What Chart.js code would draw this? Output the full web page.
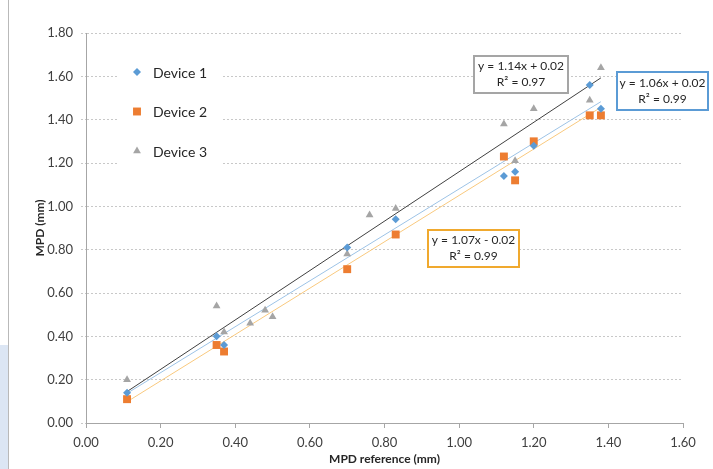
<!DOCTYPE html>
<html>
<head>
<meta charset="utf-8">
<script src="https://cdn.jsdelivr.net/npm/chart.js@4.4.1/dist/chart.umd.min.js"></script>
<style>
  html, body { margin: 0; padding: 0; background: #fff; }
  #wrap { position: relative; width: 713px; height: 469px; overflow: hidden; }
  #strip { position: absolute; left: 0; top: 345px; width: 8px; height: 124px; background: #dce6f4; }
  #edge { position: absolute; left: 8px; top: 0; width: 1px; height: 469px; background: #b9b9b9; }
  canvas { position: absolute; left: 0; top: 0; }
</style>
</head>
<body>
<div id="wrap">
  <div id="strip"></div>
  <div id="edge"></div>
  <canvas id="chart" width="713" height="469"></canvas>
</div>
<script>
// measured values (MPD reference vs device)
const dev1X = [0.11, 0.35, 0.37, 0.70, 0.83, 1.12, 1.15, 1.20, 1.35, 1.38];
const dev1Y = [0.14, 0.40, 0.36, 0.81, 0.94, 1.14, 1.16, 1.28, 1.56, 1.45];

const dev2X = [0.11, 0.35, 0.37, 0.70, 0.83, 1.12, 1.15, 1.20, 1.35, 1.38];
const dev2Y = [0.11, 0.36, 0.33, 0.71, 0.87, 1.23, 1.12, 1.30, 1.42, 1.42];

const dev3X = [0.11, 0.35, 0.37, 0.44, 0.48, 0.50, 0.70, 0.76, 0.83, 1.12, 1.15, 1.20, 1.35, 1.38];
const dev3Y = [0.20, 0.54, 0.42, 0.46, 0.52, 0.49, 0.78, 0.96, 0.99, 1.38, 1.21, 1.45, 1.49, 1.64];

// trendline end points
const trendX = [0.11, 1.38];
const trend1Y = [0.137, 1.483];
const trend2Y = [0.098, 1.457];
const trend3Y = [0.145, 1.593];

const seriesNames = ["Device 1", "Device 2", "Device 3"];
const equations = [
  ["y = 1.06x + 0.02", "R² = 0.99"],
  ["y = 1.07x - 0.02", "R² = 0.99"],
  ["y = 1.14x + 0.02", "R² = 0.97"]
];

const toPoints = (xs, ys) => xs.map((x, i) => ({ x: x, y: ys[i] }));

Chart.defaults.font.family = "Lato";
Chart.defaults.color = "#404040";

//legend drawn inside the plot, on a white patch over the gridlines
const insideLegend = {
  id: "insideLegend",
  beforeDatasetsDraw(chart) {
    const ctx = chart.ctx;
    ctx.save();
    ctx.fillStyle = "#ffffff";
    ctx.fillRect(118, 52, 104, 118);
    ctx.font = "14px Lato";
    ctx.textBaseline = "middle";
    ctx.textAlign = "left";
    for (let i = 0; i < 3; i++) {
      const ds = chart.data.datasets[i];
      const y = 72 + i * 39.5;
      ctx.fillStyle = ds.backgroundColor;
      ctx.strokeStyle = ds.borderColor;
      ctx.lineWidth = 1;
      Chart.helpers.drawPoint(ctx, { pointStyle: ds.pointStyle, radius: ds.pointRadius, rotation: 0, borderWidth: 0 }, 137, y);
      ctx.fillStyle = "#262626";
      ctx.fillText(seriesNames[i], 153, y + 1);
    }
    ctx.restore();
  }
};

//equation boxes
const boxes = [
  { eq: 0, x: 617, y: 72, w: 91, h: 38, color: "#5b9bd5" },
  { eq: 1, x: 428, y: 230, w: 91, h: 37, color: "#f0a92e" },
  { eq: 2, x: 474, y: 56, w: 94, h: 37, color: "#a5a5a5" }
];

const equationBoxes = {
  id: "equationBoxes",
  afterDatasetsDraw(chart) {
    const ctx = chart.ctx;
    ctx.save();
    boxes.forEach((b) => {
      ctx.fillStyle = "#ffffff";
      ctx.fillRect(b.x, b.y, b.w, b.h);
      ctx.strokeStyle = b.color;
      ctx.lineWidth = 2;
      ctx.strokeRect(b.x, b.y, b.w, b.h);
      ctx.fillStyle = "#262626";
      ctx.font = "12px Lato";
      ctx.textAlign = "center";
      ctx.textBaseline = "middle";
      const lines = equations[b.eq];
      ctx.fillText(lines[0], b.x + b.w / 2, b.y + b.h / 2 - 8);
      ctx.fillText(lines[1], b.x + b.w / 2, b.y + b.h / 2 + 8);
    });
    ctx.restore();
  }
};

const trendStyle = (color) => ({
  type: "line",
  borderColor: color,
  borderWidth: 1,
  pointRadius: 0,
  fill: false,
  showLine: true
});

new Chart(document.getElementById("chart"), {
  type: "scatter",
  plugins: [insideLegend, equationBoxes],
  data: {
    datasets: [
      {
        label: seriesNames[0],
        data: toPoints(dev1X, dev1Y),
        pointStyle: "rectRot",
        pointRadius: 4,
        backgroundColor: "#5b9bd5",
        borderColor: "#5b9bd5",
        borderWidth: 0
      },
      {
        label: seriesNames[1],
        data: toPoints(dev2X, dev2Y),
        pointStyle: "rect",
        pointRadius: 5.6,
        backgroundColor: "#ed7d31",
        borderColor: "#ed7d31",
        borderWidth: 0
      },
      {
        label: seriesNames[2],
        data: toPoints(dev3X, dev3Y),
        pointStyle: "triangle",
        pointRadius: 4.5,
        backgroundColor: "#a5a5a5",
        borderColor: "#a5a5a5",
        borderWidth: 0
      },
      Object.assign({ data: toPoints(trendX, trend1Y) }, trendStyle("#9dc3e6")),
      Object.assign({ data: toPoints(trendX, trend2Y) }, trendStyle("#f9c97e")),
      Object.assign({ data: toPoints(trendX, trend3Y) }, trendStyle("#404040"))
    ]
  },
  options: {
    responsive: false,
    animation: false,
    layout: { padding: { top: 33, right: 30, left: 0, bottom: 0 } },
    plugins: {
      legend: { display: false },
      tooltip: { enabled: false }
    },
    scales: {
      x: {
        type: "linear",
        min: 0,
        max: 1.6,
        afterFit: (s) => { s.height = 46; },
        ticks: {
          stepSize: 0.2,
          padding: 7,
          font: { size: 13 },
          callback: (v) => v.toFixed(2)
        },
        grid: {
          drawOnChartArea: false,
          drawTicks: true,
          tickLength: 5,
          tickColor: "#a6a6a6"
        },
        border: { color: "#a6a6a6", width: 1 },
        title: {
          display: true,
          text: "MPD reference (mm)",
          color: "#262626",
          font: { size: 12, weight: "bold" },
          padding: { top: 0, bottom: 3 }
        }
      },
      y: {
        min: 0,
        max: 1.8,
        afterFit: (s) => { s.width = 86; },
        ticks: {
          stepSize: 0.2,
          padding: 8,
          font: { size: 13 },
          callback: (v) => v.toFixed(2)
        },
        grid: {
          color: "#c8c8c8",
          tickLength: 5,
          tickColor: "#c8c8c8",
          tickBorderDash: [2, 2]
        },
        border: { color: "#a6a6a6", width: 1, dash: [2, 2] },
        title: {
          display: true,
          text: "MPD (mm)",
          color: "#262626",
          font: { size: 12, weight: "bold" },
          padding: { top: 33, bottom: 0 }
        }
      }
    }
  }
});
</script>
</body>
</html>
